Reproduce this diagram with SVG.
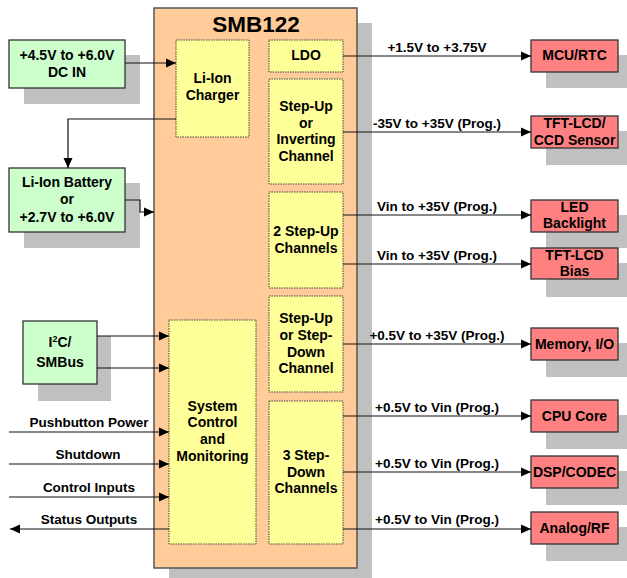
<svg xmlns="http://www.w3.org/2000/svg" width="627" height="578" viewBox="0 0 627 578">
<defs>
<marker id="ah" markerUnits="userSpaceOnUse" markerWidth="10" markerHeight="10" viewBox="0 0 10 10" refX="10" refY="5" orient="auto">
<path d="M0,0.5 L10,5 L0,9.5 Z" fill="#000"/>
</marker>
<style>
.sh{fill:#C0C0C0;stroke:none}
.main{fill:#FFCC99;stroke:#555;stroke-width:1.5}
.blk{fill:#FFFF99;stroke:#444;stroke-width:1;stroke-dasharray:1.5 1}
.grn{fill:#CCFFCC;stroke:#333;stroke-width:1.3}
.red{fill:#FF8080;stroke:#333;stroke-width:1.3}
text{font-family:"Liberation Sans",Arial,sans-serif;font-weight:bold;font-size:14px;fill:#000;text-anchor:middle}
.lbl{font-size:13.5px}
.ttl{font-size:22.5px}
.cn{fill:none;stroke:#111;stroke-width:1.2}
</style>
</defs>
<g id="smb122">
<rect class="sh" x="169" y="23" width="203" height="555"/>
<rect class="main" x="154" y="8" width="203" height="560"/>
<text class="ttl" x="256" y="32">SMB122</text>
</g>
<g id="charger">
<rect class="blk" x="176" y="40" width="73" height="97"/>
<text x="212.5" y="83">Li-Ion</text>
<text x="212.5" y="100">Charger</text>
</g>
<g id="ldo">
<rect class="blk" x="269" y="40" width="74" height="32"/>
<text x="306" y="60">LDO</text>
</g>
<g id="stepup-inv">
<rect class="blk" x="269" y="79" width="74" height="105"/>
<text x="306" y="111">Step-Up</text>
<text x="306" y="128">or</text>
<text x="306" y="144">Inverting</text>
<text x="306" y="161">Channel</text>
</g>
<g id="stepup2">
<rect class="blk" x="269" y="192" width="74" height="96"/>
<text x="306" y="236">2 Step-Up</text>
<text x="306" y="253">Channels</text>
</g>
<g id="stepupdown">
<rect class="blk" x="269" y="296" width="74" height="96"/>
<text x="306" y="323">Step-Up</text>
<text x="306" y="340">or Step-</text>
<text x="306" y="357">Down</text>
<text x="306" y="373">Channel</text>
</g>
<g id="stepdown3">
<rect class="blk" x="269" y="401" width="74" height="143"/>
<text x="306" y="460">3 Step-</text>
<text x="306" y="477">Down</text>
<text x="306" y="493">Channels</text>
</g>
<g id="sysctrl">
<rect class="blk" x="169" y="320" width="87" height="224"/>
<text x="212.5" y="411">System</text>
<text x="212.5" y="427">Control</text>
<text x="212.5" y="444">and</text>
<text x="212.5" y="461">Monitoring</text>
</g>
<g id="dcin">
<rect class="sh" x="24" y="55" width="116" height="49"/>
<rect class="grn" x="9" y="40" width="116" height="48"/>
<text x="67" y="60">+4.5V to +6.0V</text>
<text x="67" y="77">DC IN</text>
</g>
<g id="battery">
<rect class="sh" x="24" y="183" width="116" height="65"/>
<rect class="grn" x="9" y="168" width="116" height="64"/>
<text x="67" y="187">Li-Ion Battery</text>
<text x="67" y="204">or</text>
<text x="67" y="222">+2.7V to +6.0V</text>
</g>
<g id="i2c">
<rect class="sh" x="38" y="336" width="73" height="65"/>
<rect class="grn" x="23" y="321" width="74" height="63"/>
<text x="60" y="347">I<tspan dy="-5" font-size="9">2</tspan><tspan dy="5">C/</tspan></text>
<text x="60" y="367">SMBus</text>
</g>
<g id="mcu">
<rect class="sh" x="546" y="55" width="81" height="33"/>
<rect class="red" x="531" y="40" width="87" height="32"/>
<text x="574.5" y="60">MCU/RTC</text>
</g>
<g id="tftccd">
<rect class="sh" x="546" y="131" width="81" height="34"/>
<rect class="red" x="531" y="116" width="87" height="32"/>
<text x="574.5" y="128">TFT-LCD/</text>
<text x="574.5" y="145">CCD Sensor</text>
</g>
<g id="led">
<rect class="sh" x="546" y="215" width="81" height="33"/>
<rect class="red" x="531" y="200" width="87" height="32"/>
<text x="574.5" y="212">LED</text>
<text x="574.5" y="228">Backlight</text>
</g>
<g id="tftbias">
<rect class="sh" x="546" y="263" width="81" height="34"/>
<rect class="red" x="531" y="248" width="87" height="31"/>
<text x="574.5" y="260">TFT-LCD</text>
<text x="574.5" y="276">Bias</text>
</g>
<g id="memory">
<rect class="sh" x="546" y="343" width="81" height="34"/>
<rect class="red" x="531" y="328" width="87" height="32"/>
<text x="574.5" y="349">Memory, I/O</text>
</g>
<g id="cpu">
<rect class="sh" x="546" y="415" width="81" height="34"/>
<rect class="red" x="531" y="400" width="87" height="32"/>
<text x="574.5" y="421">CPU Core</text>
</g>
<g id="dsp">
<rect class="sh" x="546" y="471" width="81" height="34"/>
<rect class="red" x="531" y="456" width="87" height="32"/>
<text x="574.5" y="477">DSP/CODEC</text>
</g>
<g id="analog">
<rect class="sh" x="546" y="527" width="81" height="34"/>
<rect class="red" x="531" y="512" width="87" height="32"/>
<text x="574.5" y="533">Analog/RF</text>
</g>
<g id="connectors">
<path class="cn" d="M125,63 H176" marker-end="url(#ah)"/>
<path class="cn" d="M176,119 H68 V168" marker-end="url(#ah)"/>
<path class="cn" d="M125,200 H140 V212 H154" marker-end="url(#ah)"/>
<path class="cn" d="M97,336 H169" marker-end="url(#ah)"/>
<path class="cn" d="M97,368 H169" marker-end="url(#ah)"/>
<path class="cn" d="M9,432 H169" marker-end="url(#ah)"/>
<path class="cn" d="M9,464 H169" marker-end="url(#ah)"/>
<path class="cn" d="M9,497 H169" marker-end="url(#ah)"/>
<path class="cn" d="M169,529 H10" marker-end="url(#ah)"/>
<path class="cn" d="M343,56 H531" marker-end="url(#ah)"/>
<path class="cn" d="M343,132 H531" marker-end="url(#ah)"/>
<path class="cn" d="M343,215 H531" marker-end="url(#ah)"/>
<path class="cn" d="M343,264 H531" marker-end="url(#ah)"/>
<path class="cn" d="M343,344 H531" marker-end="url(#ah)"/>
<path class="cn" d="M343,416 H531" marker-end="url(#ah)"/>
<path class="cn" d="M343,472 H531" marker-end="url(#ah)"/>
<path class="cn" d="M343,529 H531" marker-end="url(#ah)"/>
<text class="lbl" x="89" y="427">Pushbutton Power</text>
<text class="lbl" x="88" y="459">Shutdown</text>
<text class="lbl" x="89" y="492">Control Inputs</text>
<text class="lbl" x="89" y="524">Status Outputs</text>
<text class="lbl" x="437" y="52">+1.5V to +3.75V</text>
<text class="lbl" x="437" y="128">-35V to +35V (Prog.)</text>
<text class="lbl" x="437" y="211">Vin to +35V (Prog.)</text>
<text class="lbl" x="437" y="260">Vin to +35V (Prog.)</text>
<text class="lbl" x="437" y="340">+0.5V to +35V (Prog.)</text>
<text class="lbl" x="437" y="412">+0.5V to Vin (Prog.)</text>
<text class="lbl" x="437" y="468">+0.5V to Vin (Prog.)</text>
<text class="lbl" x="437" y="524">+0.5V to Vin (Prog.)</text>
</g>
</svg>
